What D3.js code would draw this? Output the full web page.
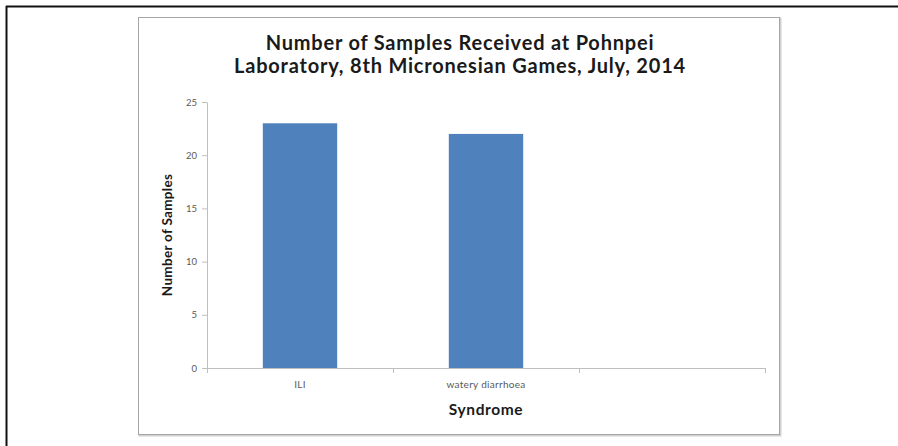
<!DOCTYPE html>
<html>
<head>
<meta charset="utf-8">
<script src="https://cdn.jsdelivr.net/npm/d3@7"></script>
<style>
  html, body { margin: 0; padding: 0; background: #fff; }
  svg { display: block; }
  text { font-family: Lato, "Open Sans", sans-serif; }
</style>
</head>
<body>
<svg id="chart" width="898" height="446"></svg>
<script>
// Samples received per syndrome
const categories = ["ILI", "watery diarrhoea", ""];
const sampleCounts = [23, 22, null];
const yTicks = [0, 5, 10, 15, 20, 25];
const titleLines = [
  "Number of Samples Received at Pohnpei",
  "Laboratory, 8th Micronesian Games, July, 2014"
];

const svg = d3.select("#chart");

// page frame lines (top and left)
svg.append("line").attr("x1", 6).attr("x2", 898).attr("y1", 6.5).attr("y2", 6.5)
  .attr("stroke", "#111").attr("stroke-width", 2);
svg.append("line").attr("x1", 6.5).attr("x2", 6.5).attr("y1", 6).attr("y2", 446)
  .attr("stroke", "#111").attr("stroke-width", 2);

// chart area box with a soft shadow
svg.append("rect").attr("x", 139.5).attr("y", 18.5).attr("width", 641).attr("height", 417)
  .attr("fill", "none").attr("stroke", "#d0d0d0").attr("stroke-width", 2);
svg.append("rect").attr("x", 138.5).attr("y", 17.5).attr("width", 641).attr("height", 417)
  .attr("fill", "#fff").attr("stroke", "#a6a6a6").attr("stroke-width", 1);

const plot = { left: 207, right: 765, top: 102, bottom: 368 };

const x = d3.scaleBand().domain(categories.map((c, i) => i))
  .range([plot.left, plot.right]).paddingInner(0.6).paddingOuter(0.3);
const y = d3.scaleLinear().domain([0, 25]).range([plot.bottom, plot.top]);

// bars
svg.append("g").selectAll("rect")
  .data(sampleCounts.map((v, i) => ({ v, i })).filter(d => d.v != null))
  .join("rect")
  .attr("x", d => x(d.i))
  .attr("width", x.bandwidth())
  .attr("y", d => y(d.v))
  .attr("height", d => y(0) - y(d.v))
  .attr("fill", "#4f81bd");

// y axis
const yAxis = svg.append("g").attr("transform", `translate(${plot.left},0)`)
  .call(d3.axisLeft(y).tickValues(yTicks).tickSize(5).tickPadding(5).tickSizeOuter(0));
yAxis.select(".domain").attr("stroke", "#bfbfbf");
yAxis.selectAll(".tick line").attr("stroke", "#bfbfbf");
yAxis.selectAll(".tick text").attr("fill", "#595959").style("font-size", "9.5px")
  .style("font-family", "Lato, sans-serif");

// x axis: ticks at category boundaries
const xBoundary = d3.scaleLinear().domain([0, categories.length]).range([plot.left, plot.right]);
const xAxisG = svg.append("g");
xAxisG.append("line").attr("x1", plot.left).attr("x2", plot.right)
  .attr("y1", plot.bottom + 0.5).attr("y2", plot.bottom + 0.5).attr("stroke", "#bfbfbf");
xAxisG.selectAll("line.tk").data(d3.range(categories.length + 1)).join("line")
  .attr("class", "tk")
  .attr("x1", d => Math.round(xBoundary(d)) + 0.5).attr("x2", d => Math.round(xBoundary(d)) + 0.5)
  .attr("y1", plot.bottom).attr("y2", plot.bottom + 5).attr("stroke", "#bfbfbf");
xAxisG.selectAll("text").data(categories).join("text")
  .attr("x", (d, i) => x(i) + x.bandwidth() / 2)
  .attr("y", 388)
  .attr("text-anchor", "middle")
  .attr("fill", "#595959")
  .style("font-size", "10px")
  .style("letter-spacing", "0.3px")
  .text(d => d);

// titles
svg.append("g").selectAll("text").data(titleLines).join("text")
  .attr("x", 460).attr("y", (d, i) => 50 + i * 23)
  .attr("text-anchor", "middle")
  .attr("font-weight", "bold")
  .attr("fill", "#1a1a1a")
  .style("font-size", "20px")
  .style("letter-spacing", "0.8px")
  .text(d => d);

svg.append("text")
  .attr("x", (plot.left + plot.right) / 2).attr("y", 415)
  .attr("text-anchor", "middle").attr("font-weight", "bold").attr("fill", "#1a1a1a")
  .style("font-size", "15.5px")
  .style("letter-spacing", "0.6px")
  .text("Syndrome");

svg.append("text")
  .attr("transform", `translate(172,${(plot.top + plot.bottom) / 2}) rotate(-90)`)
  .attr("text-anchor", "middle").attr("font-weight", "bold").attr("fill", "#1a1a1a")
  .style("font-size", "13.5px")
  .style("letter-spacing", "0.3px")
  .text("Number of Samples");
</script>
</body>
</html>
